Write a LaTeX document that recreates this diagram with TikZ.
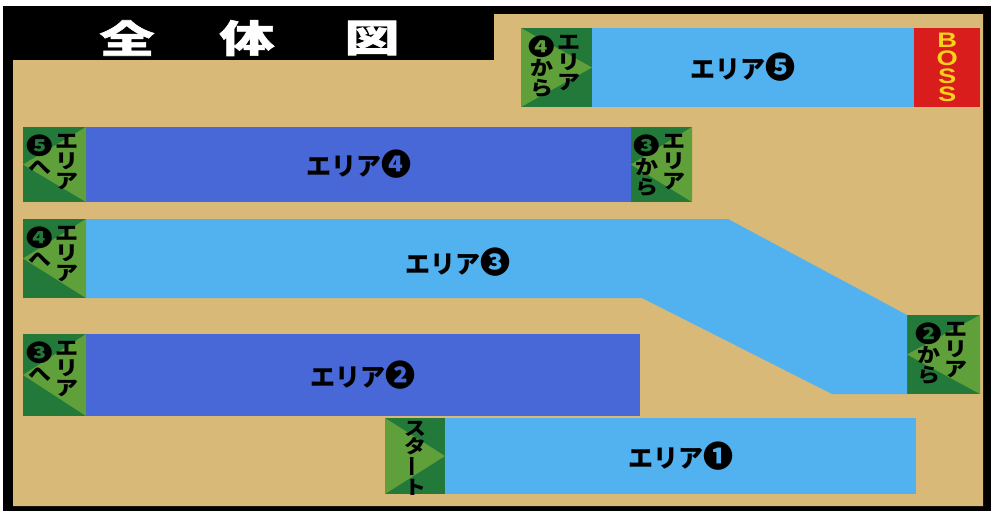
\documentclass[tikz,border=0pt]{standalone}
\usepackage{fontspec}
\setmainfont{Noto Sans CJK JP}
\newfontfamily\titlefont[FakeStretch=1.45,FakeBold=1.5]{Noto Sans CJK JP}
\newfontfamily\gatefont[FakeStretch=1.15]{Noto Sans CJK JP}
\newfontfamily\bossfont[FakeStretch=1.3]{Liberation Sans}
\newcommand\circnum[2]{{\fontsize{#1}{#1}\selectfont #2}}
\usepackage{tikz}
\usetikzlibrary{positioning}
\usepackage{xcolor}
\definecolor{mapSand}{HTML}{D8B977}
\definecolor{mapSky}{HTML}{52B2F0}
\definecolor{mapNavy}{HTML}{4768D6}
\definecolor{gateDark}{HTML}{23793A}
\definecolor{gateLight}{HTML}{5FA03A}
\definecolor{bossRed}{HTML}{D91C1C}
\definecolor{bossGold}{HTML}{F6D31A}

\begin{document}
\begin{tikzpicture}[x=1pt,y=-1pt,
  gate/.style={fill=gateDark,inner sep=0pt,outer sep=0pt},
  bar/.style={inner sep=0pt,outer sep=0pt,font=\bfseries\fontsize{25}{25}\selectfont},
  gatetext/.style={inner sep=0pt,anchor=north,align=center,font=\gatefont\bfseries\fontsize{20}{20}\selectfont},
  titlechar/.style={text=white,font=\titlefont\bfseries\fontsize{38}{38}\selectfont}]
\useasboundingbox (0,0) rectangle (993,512);
% frame and title bar
\fill (3,6) rectangle (991,511);
\fill[mapSand] (13,60) -- (494,60) -- (494,14) -- (983,14) -- (983,506) -- (13,506) -- cycle;
\foreach \ch/\xx [count=\i] in {全/127,体/247,図/372}
  \node[titlechar] (t\i) at (\xx,38) {\ch};
% gates
\foreach \name/\cx/\cy/\w/\h in {g5in/556.5/67.5/71/79,g4out/54.5/164.5/63/75,g3out/54.5/258.5/63/79,g3in/943.5/354.5/73/79,g2out/54.5/375/63/82,gstart/415/456/60/76}
  \node[gate,minimum width=\w pt,minimum height=\h pt] (\name) at (\cx,\cy) {};
% areas
\node[bar,fill=mapSky,minimum width=322pt,minimum height=79pt,right=0pt of g5in] (a5) {};
\node[bar] (a5-t) at ([xshift=-10pt]a5.center) {エリア\circnum{30}{❺}};
\node[fill=bossRed,inner sep=0pt,minimum width=66pt,minimum height=79pt,right=0pt of a5] (boss) {};
\node[text=bossGold,align=center,inner sep=0pt,font=\bossfont\bfseries\fontsize{21}{18}\selectfont] (boss-t) at (boss) {B\\O\\S\\S};
\node[bar,fill=mapNavy,minimum width=545pt,minimum height=75pt,right=0pt of g4out] (a4) {エリア\circnum{30}{❹}};
\node[gate,minimum width=61pt,minimum height=75pt,right=0pt of a4] (g4in) {};
\fill[mapSky] (g3out.north east) -- (728,219) -- (g3in.north west) -- (g3in.south west) -- (832,394) -- (642,298) -- (g3out.south east) -- cycle;
\node[bar] (a3) at (458,262) {エリア\circnum{30}{❸}};
\node[bar,fill=mapNavy,minimum width=554pt,minimum height=82pt,right=0pt of g2out] (a2) {エリア\circnum{30}{❷}};
\node[bar,fill=mapSky,minimum width=471pt,minimum height=76pt,right=0pt of gstart] (a1) {エリア\circnum{30}{❶}};
% gate arrows
\foreach \g in {g5in,gstart}
  \fill[gateLight] (\g.north west) -- (\g.east) -- (\g.south west) -- cycle;
\foreach \g in {g4out,g4in,g3out,g3in,g2out}
  \fill[gateLight] (\g.north east) -- (\g.west) -- (\g.south east) -- cycle;
\foreach \g/\num/\suf in {g5in/❹/か\\ら,g4out/❺/へ,g4in/❸/か\\ら,g3out/❹/へ,g3in/❷/か\\ら,g2out/❸/へ}{
  \node[gatetext] (\g-r) at ([xshift=12.5pt,yshift=-7pt]\g.north) {エ\\リ\\ア};
  \node[gatetext] (\g-l) at ([xshift=-14.5pt,yshift=-8pt]\g.north) {\circnum{23}{\num}\\\suf};
}
\node[gatetext,font=\gatefont\bfseries\fontsize{19}{18}\selectfont] (gstart-t) at ([yshift=-3pt]gstart.north) {ス\\タ\\\rotatebox[origin=c]{90}{ー}\\ト};
\end{tikzpicture}
\end{document}
